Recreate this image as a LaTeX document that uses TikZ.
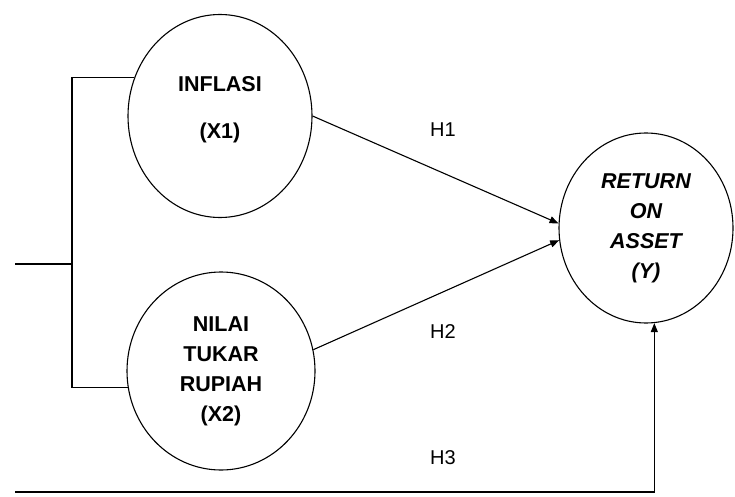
\documentclass[tikz,border=0pt]{standalone}
\usepackage{fontspec}
\setmainfont{Liberation Sans}
\usetikzlibrary{shapes.geometric,arrows.meta}
\tikzset{
  var/.style = {draw, ellipse, inner sep=0pt, align=center,
                font=\bfseries\fontsize{21.5}{30}\selectfont},
  hyp/.style = {font=\fontsize{20}{22}\selectfont},
  path/.style = {-{Triangle[length=9pt,width=7pt]}}
}
\begin{document}
\begin{tikzpicture}[x = 1pt, y = 1pt, line width = 1.1pt]
	\useasboundingbox (0, 0) rectangle (735, 496);
	% variables
	\node[var, minimum width = 184, minimum height = 203] (inf) at (220, 380) {INFLASI\\[17pt](X1)\\[-12pt]\mbox{}};
	\node[var, minimum width = 188, minimum height = 198] (nil) at (221, 125) {NILAI\\TUKAR\\RUPIAH\\(X2)};
	\node[var, minimum width = 174, minimum height = 190] (roa) at (646, 268) {\itshape RETURN\\\itshape ON\\\itshape ASSET\\\itshape (Y)};
	% bracket on the left
	\coordinate (brk)  at (72, 232);
	\coordinate (stub) at (15, 232);
	\coordinate (bot)  at (15, 4);
	\draw (stub) -- (brk);
	\draw (inf.156) -| (brk) |- (nil.190);
	% hypotheses
	\draw[path] (inf.east) -- (roa.177);
	\draw[path] (nil.13) -- (roa.188);
	\draw[path] (bot) -| (roa.275);
	\node[hyp] (h1) at (443, 366) {H1};
	\node[hyp] (h2) at (443, 164) {H2};
	\node[hyp] (h3) at (443, 38)  {H3};
\end{tikzpicture}
\end{document}
